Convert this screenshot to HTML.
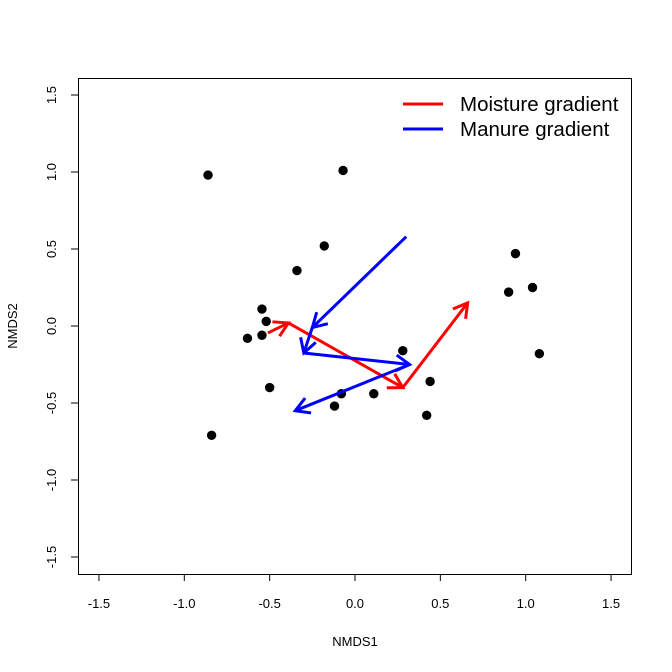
<!DOCTYPE html>
<html><head><meta charset="utf-8"><style>body{margin:0;background:#fff}svg{display:block;font-family:"Liberation Sans",Arial,sans-serif}</style></head>
<body>
<svg id="c" width="672" height="672"></svg>
<script>
const ptX=[-0.861,-0.07,-0.18,-0.34,-0.545,-0.52,-0.545,-0.63,-0.50,-0.84,-0.08,-0.12,0.11,0.28,0.44,0.42,0.90,0.94,1.04,1.08];
const ptY=[0.98,1.01,0.52,0.36,0.11,0.03,-0.06,-0.08,-0.40,-0.71,-0.44,-0.52,-0.44,-0.16,-0.36,-0.58,0.22,0.47,0.25,-0.18];
const redX=[-0.51,-0.39,0.28,0.66];
const redY=[-0.045,0.02,-0.40,0.15];
const blueX=[0.30,-0.25,-0.30,0.32,-0.35];
const blueY=[0.58,-0.01,-0.175,-0.25,-0.55];
const ticks=[-1.5,-1.0,-0.5,0.0,0.5,1.0,1.5];
const tickLabels=["-1.5","-1.0","-0.5","0.0","0.5","1.0","1.5"];
const svg=document.getElementById('c');const NS='http://www.w3.org/2000/svg';
const sx=v=>355+v*170.7, sy=v=>326-v*154;
function mk(t,a,p){const e=document.createElementNS(NS,t);for(const k in a)e.setAttribute(k,a[k]);(p||svg).appendChild(e);return e;}
const box=mk('rect',{x:78.5,y:78.5,width:553,height:496,fill:'none',stroke:'#000'});


ticks.forEach((t,i)=>{
 const x=sx(t);
 const l=mk('line',{x1:x,x2:x,y1:574,y2:581,stroke:'#000'});
 
 
 const tx=mk('text',{x:x,y:608,'text-anchor':'middle','font-size':13,fill:'#000'});tx.textContent=tickLabels[i];
 
 
 const y=sy(t);
 const l2=mk('line',{x1:71,x2:78,y1:y,y2:y,stroke:'#000'});
 
 
 const ty=mk('text',{x:56,y:y,'text-anchor':'middle','font-size':13,fill:'#000',transform:`rotate(-90 56 ${y})`});ty.textContent=tickLabels[i];
 
 
});
const xt=mk('text',{x:355,y:646,'text-anchor':'middle','font-size':13});xt.textContent='NMDS1';


const yt=mk('text',{x:17,y:326,'text-anchor':'middle','font-size':13,transform:'rotate(-90 17 326)'});yt.textContent='NMDS2';


ptX.forEach((v,i)=>{const c=mk('circle',{cx:sx(v),cy:sy(ptY[i]),r:4.7,fill:'#000'});
 
 });
function arrows(X,Y,col,name){
 for(let i=0;i<X.length-1;i++){
  const x1=sx(X[i]),y1=sy(Y[i]),x2=sx(X[i+1]),y2=sy(Y[i+1]);
  const a=Math.atan2(y2-y1,x2-x1),L=16,h=Math.PI/6;
  const g=mk('path',{d:`M${x1},${y1}L${x2},${y2}M${x2-L*Math.cos(a-h)},${y2-L*Math.sin(a-h)}L${x2},${y2}L${x2-L*Math.cos(a+h)},${y2-L*Math.sin(a+h)}`,stroke:col,'stroke-width':3,fill:'none'});
  
  
 }
}
arrows(redX,redY,'#f00','moisture-arrow');
arrows(blueX,blueY,'#00f','manure-arrow');
[['#f00','Moisture gradient',104],['#00f','Manure gradient',129]].forEach(([c,t,y])=>{
 const l=mk('line',{x1:403,x2:443,y1:y,y2:y,stroke:c,'stroke-width':3});
 
 
 const tx=mk('text',{x:460,y:y+7,'font-size':20.5});tx.textContent=t;
 
 
});
</script>
</body></html>
